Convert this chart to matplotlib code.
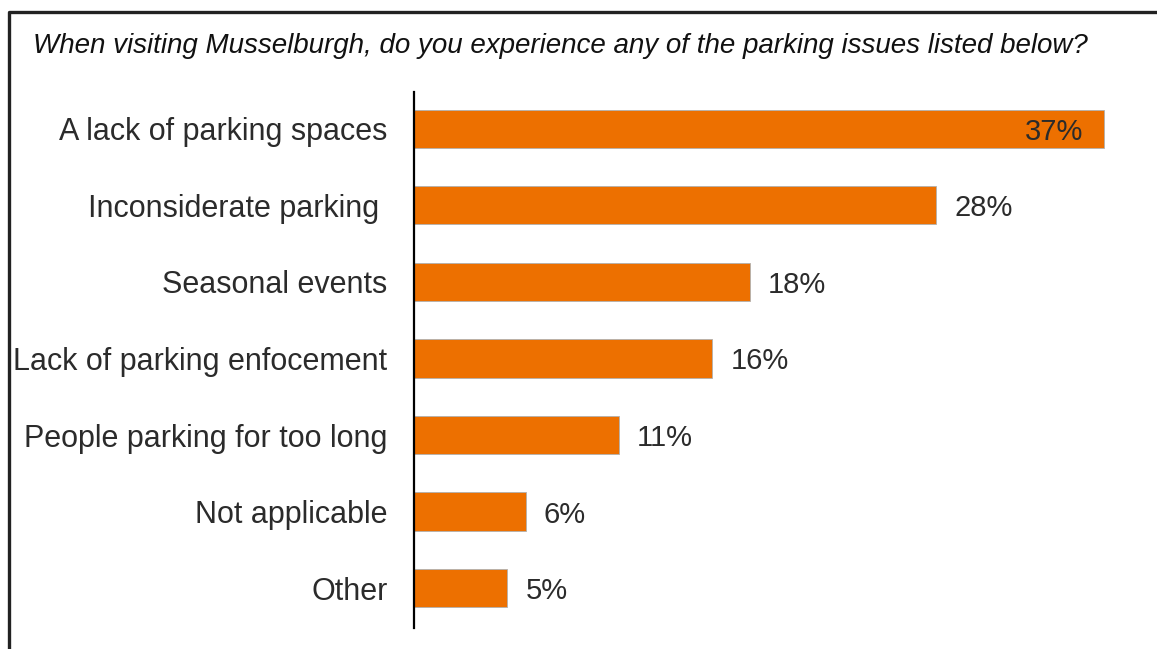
import matplotlib

matplotlib.use("Agg")
import matplotlib.pyplot as plt
from matplotlib.lines import Line2D

# survey responses, top to bottom
categories = [
    "A lack of parking spaces",
    "Inconsiderate parking ",
    "Seasonal events",
    "Lack of parking enfocement",
    "People parking for too long",
    "Not applicable",
    "Other",
]
percent = [37, 28, 18, 16, 11, 6, 5]

TITLE = "When visiting Musselburgh, do you experience any of the parking issues listed below?"
BAR_COLOR = "#ED7000"
TEXT_COLOR = "#2b2b2b"

plt.rcParams["font.family"] = ["Liberation Sans", "DejaVu Sans"]

W, H = 1157, 649
fig = plt.figure(figsize=(W / 100, H / 100), dpi=100)

# axes placed in pixel terms: y-axis line at x=414, bars scaled ~18.65 px per %
ax_left, ax_right = 414, W
ax_top, ax_bottom = 92, 628
ax = fig.add_axes([ax_left / W, 1 - ax_bottom / H, (ax_right - ax_left) / W, (ax_bottom - ax_top) / H])

ypos = list(range(len(categories)))
ax.barh(ypos, percent, height=0.5, color=BAR_COLOR, edgecolor="#B0B0B0", linewidth=0.6)
ax.set_xlim(0, (ax_right - ax_left) / 18.65)
ax.set_ylim(len(categories) - 0.48, -0.48)

ax.set_yticks(ypos)
ax.set_yticklabels(categories, fontsize=22, color=TEXT_COLOR, va="center_baseline")
ax.tick_params(axis="y", length=0, pad=19)
ax.set_xticks([])

for side in ("top", "right", "bottom"):
    ax.spines[side].set_visible(False)
ax.spines["left"].set_linewidth(1.6)
ax.spines["left"].set_color("black")

for y, v in zip(ypos, percent):
    if v == max(percent):
        ax.annotate(f"{v}%", (v, y), xytext=(-15, 0), textcoords="offset points",
                    ha="right", va="center_baseline", fontsize=21, color=TEXT_COLOR)
    else:
        ax.annotate(f"{v}%", (v, y), xytext=(13, 0), textcoords="offset points",
                    ha="left", va="center_baseline", fontsize=21, color=TEXT_COLOR)

fig.text(33 / W, 1 - 43 / H, TITLE, fontsize=20, style="italic", color="#111111",
         ha="left", va="center_baseline")

# outer frame, open on the right and bottom
frame = Line2D([9 / W, 9 / W, 1.0], [0.0, 1 - 12 / H, 1 - 12 / H],
               transform=fig.transFigure, color="#222222", linewidth=2.4)
fig.add_artist(frame)

fig.savefig("out.png", dpi=100, facecolor="white")
